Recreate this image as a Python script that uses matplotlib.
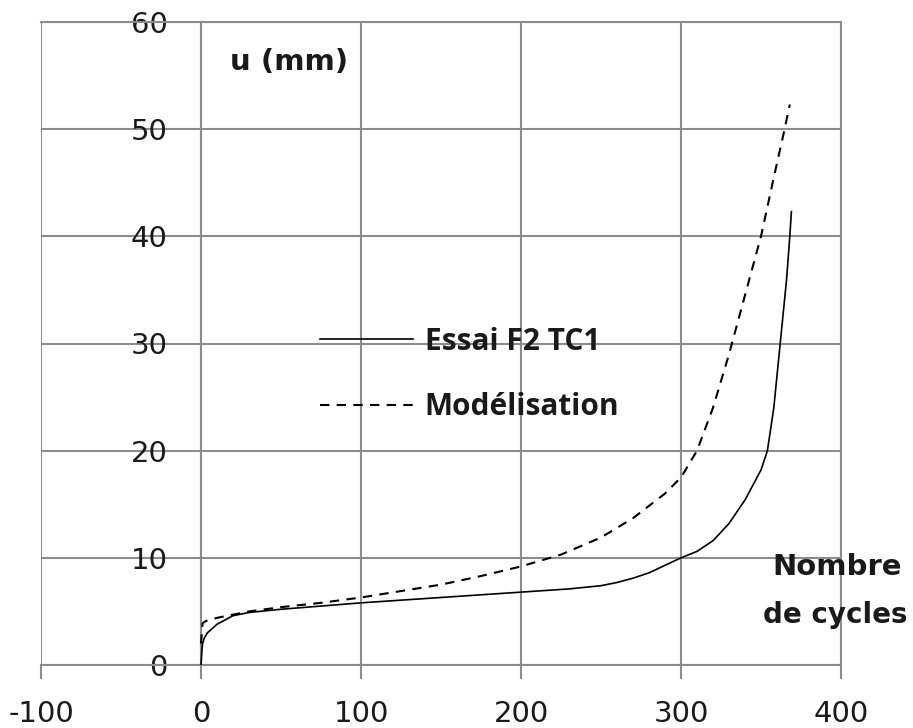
import matplotlib
matplotlib.use("Agg")
import matplotlib.pyplot as plt

plt.rcParams['font.family'] = ['DejaVu Sans']
plt.rcParams['axes.unicode_minus'] = False

# Essai F2 TC1 (solid)
essai_x = [0, 0.5, 1, 2, 4, 7, 10, 15, 20, 30, 50, 75, 100, 150, 200, 230, 250,
           260, 270, 280, 290, 300, 310, 320, 330, 340, 350, 354, 358, 362, 366,
           368, 369]
essai_y = [0, 1.2, 2.0, 2.5, 3.0, 3.4, 3.8, 4.2, 4.6, 4.9, 5.2, 5.5, 5.8, 6.3, 6.8,
           7.1, 7.4, 7.7, 8.1, 8.6, 9.3, 10.0, 10.6, 11.6, 13.2, 15.4, 18.2, 20.0,
           24.0, 30.0, 36.0, 40.0, 42.3]

# Modelisation (dashed)
model_x = [0, 1, 3, 10, 20, 30, 50, 75, 100, 125, 150, 175, 200, 225, 250, 270,
           290, 300, 310, 320, 330, 340, 350, 358, 364, 368]
model_y = [2.0, 3.9, 4.1, 4.4, 4.7, 5.0, 5.4, 5.8, 6.3, 6.9, 7.5, 8.3, 9.2, 10.3,
           11.9, 13.7, 16.0, 17.5, 20.0, 24.0, 29.0, 34.5, 40.0, 45.5, 49.5, 52.3]

xticks = [-100, 0, 100, 200, 300, 400]
yticks = [0, 10, 20, 30, 40, 50, 60]

grid_col = '#8c8c8c'
txt_col = '#1a1a1a'

fig = plt.figure(figsize=(9.13, 7.28), dpi=100)
ax = fig.add_axes([41 / 913, 1 - 665 / 728, 800 / 913, 643 / 728])

ax.plot(essai_x, essai_y, color='black', lw=1.2, label='Essai F2 TC1', zorder=3)
ax.plot(model_x, model_y, color='black', lw=1.5, ls=(0, (4.5, 3.5)),
        label='Modélisation', zorder=3)

ax.set_xlim(-100, 400)
ax.set_ylim(0, 60)
ax.set_xticks(xticks)
ax.set_yticks(yticks)
ax.grid(True, color=grid_col, lw=1.5)
ax.set_axisbelow(True)

for s in ax.spines.values():
    s.set_color(grid_col)
    s.set_linewidth(1.5)
ax.spines['left'].set_position(('data', 0))

ax.tick_params(axis='x', length=10, width=1.5, color=grid_col, pad=15,
               labelsize=21, labelcolor=txt_col)
ax.tick_params(axis='y', length=0, pad=24, labelsize=21, labelcolor=txt_col)

leg = ax.legend(loc='center left', bbox_to_anchor=(320 / 913, 1 - 374.5 / 728),
                bbox_transform=fig.transFigure, frameon=False, borderpad=0,
                borderaxespad=0, handlelength=3.1, handletextpad=0.4,
                labelspacing=1.2,
                prop={'family': 'Open Sans', 'size': 21.5, 'weight': 'bold'})
for t in leg.get_texts():
    t.set_color(txt_col)

ax.text(18.2, 55.5, 'u (mm)', fontsize=21, fontweight='bold', color=txt_col,
        va='baseline', ha='left')
ax.text(357, 8.4, 'Nombre', fontsize=21, fontweight='bold', color=txt_col,
        va='baseline', ha='left', clip_on=False)
ax.text(351, 3.9, 'de cycles', fontsize=20, fontweight='bold', color=txt_col,
        va='baseline', ha='left', clip_on=False)

fig.savefig('out.png', dpi=100)
